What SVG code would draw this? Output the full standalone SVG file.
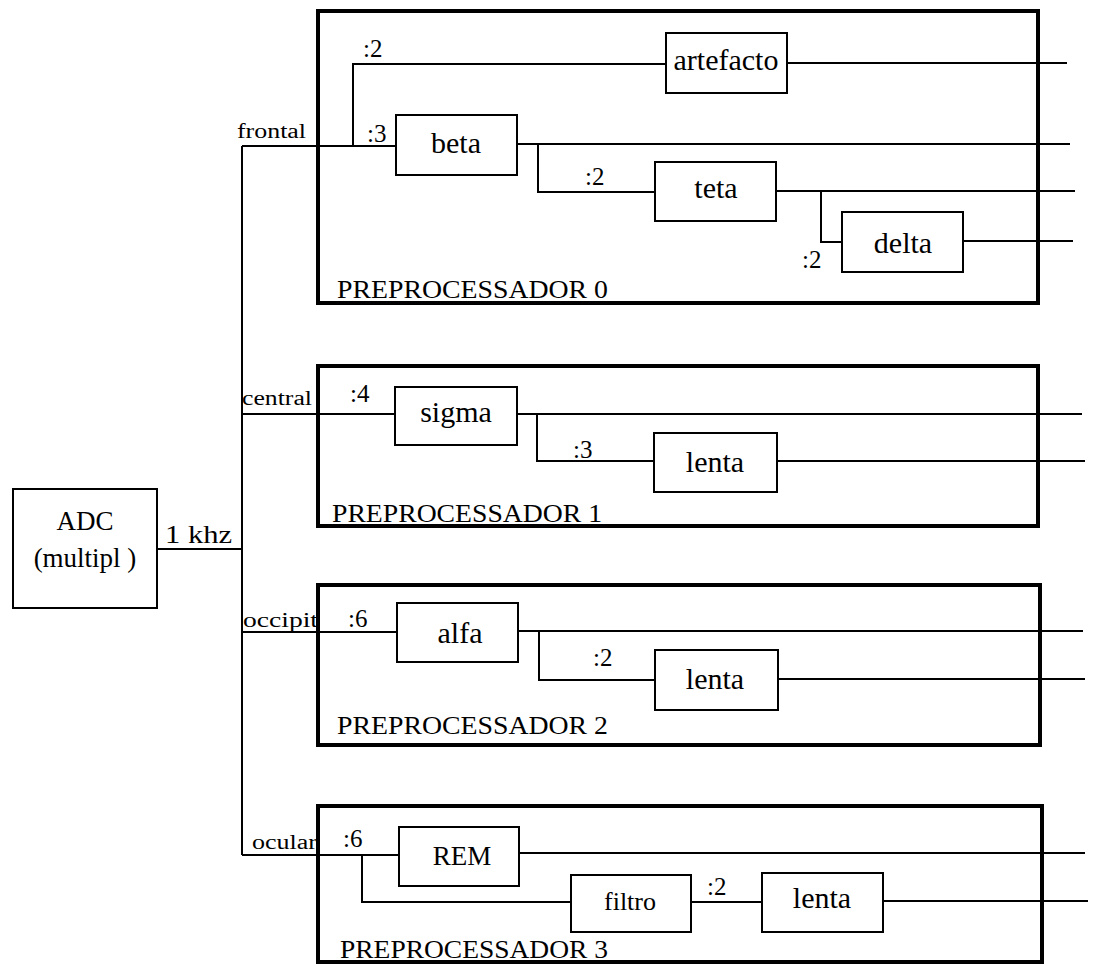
<svg xmlns="http://www.w3.org/2000/svg" width="1095" height="966" viewBox="0 0 1095 966">
<style>
.bg{fill:#fff}
.pre{fill:none;stroke:#000;stroke-width:4}
.blk{fill:#fff;stroke:#000;stroke-width:2}
.ln{fill:none;stroke:#000;stroke-width:2}
.lb{font-family:'Times New Roman','Liberation Serif',serif;font-size:30px;text-anchor:middle;fill:#000}
.sm{font-family:'Liberation Serif','Times New Roman',serif;font-size:20px;fill:#000}
.rt{font-family:'Liberation Serif',serif;font-size:25px;fill:#000}
.pp{font-family:'Liberation Serif','Times New Roman',serif;font-size:25px;fill:#000}
</style>
<rect class="bg" x="0" y="0" width="1095" height="966"/>

<g id="connectors">
  <path class="ln" d="M157,549 H242"/>
  <path class="ln" d="M242,146 V855"/>
  <path class="ln" d="M242,146 H396"/>
  <path class="ln" d="M353,146 V64 H666"/>
  <path class="ln" d="M787,63 H1067"/>
  <path class="ln" d="M517,144 H1070"/>
  <path class="ln" d="M538,144 V192 H655"/>
  <path class="ln" d="M776,191 H1075"/>
  <path class="ln" d="M821,191 V242 H842"/>
  <path class="ln" d="M963,241 H1073"/>
  <path class="ln" d="M242,414 H395"/>
  <path class="ln" d="M517,414 H1082"/>
  <path class="ln" d="M537,414 V461 H654"/>
  <path class="ln" d="M777,461 H1085"/>
  <path class="ln" d="M242,632 H397"/>
  <path class="ln" d="M518,631 H1083"/>
  <path class="ln" d="M539,631 V680 H655"/>
  <path class="ln" d="M778,679 H1085"/>
  <path class="ln" d="M242,855 H399"/>
  <path class="ln" d="M519,853 H1085"/>
  <path class="ln" d="M362,855 V902 H571"/>
  <path class="ln" d="M691,902 H762"/>
  <path class="ln" d="M883,901 H1088"/>
</g>

<g id="adc">
  <rect class="blk" x="13" y="489" width="144" height="119"/>
  <text class="lb" x="85" y="530" style="font-size:27px">ADC</text>
  <text class="lb" x="85" y="567" style="font-size:27px">(multipl )</text>
</g>
<text id="lbl-1khz" class="rt" x="165" y="543" textLength="67" lengthAdjust="spacingAndGlyphs">1 khz</text>

<g id="bus-labels">
  <text class="sm" x="237" y="138" textLength="69" lengthAdjust="spacingAndGlyphs">frontal</text>
  <text class="sm" x="242" y="405" textLength="70" lengthAdjust="spacingAndGlyphs">central</text>
  <text class="sm" x="243" y="627" textLength="75" lengthAdjust="spacingAndGlyphs">occipit</text>
  <text class="sm" x="252" y="849" textLength="65" lengthAdjust="spacingAndGlyphs">ocular</text>
</g>

<g id="pre0">
  <rect class="pre" x="318" y="11" width="720" height="292"/>
  <text class="pp" x="337" y="298" textLength="271" lengthAdjust="spacingAndGlyphs">PREPROCESSADOR 0</text>
  <text class="rt" x="363" y="57">:2</text>
  <text class="rt" x="367" y="142">:3</text>
  <text class="rt" x="585" y="185">:2</text>
  <text class="rt" x="802" y="268">:2</text>
</g>
<g id="artefacto">
  <rect class="blk" x="666" y="33" width="121" height="60"/>
  <text class="lb" x="726" y="70">artefacto</text>
</g>
<g id="beta">
  <rect class="blk" x="396" y="115" width="121" height="60"/>
  <text class="lb" x="456" y="153">beta</text>
</g>
<g id="teta">
  <rect class="blk" x="655" y="162" width="121" height="59"/>
  <text class="lb" x="716" y="198">teta</text>
</g>
<g id="delta">
  <rect class="blk" x="842" y="212" width="121" height="60"/>
  <text class="lb" x="903" y="253">delta</text>
</g>

<g id="pre1">
  <rect class="pre" x="318" y="366" width="720" height="160"/>
  <text class="pp" x="332" y="522" textLength="270" lengthAdjust="spacingAndGlyphs">PREPROCESSADOR 1</text>
  <text class="rt" x="350" y="402">:4</text>
  <text class="rt" x="573" y="458">:3</text>
</g>
<g id="sigma">
  <rect class="blk" x="395" y="387" width="122" height="58"/>
  <text class="lb" x="456" y="422">sigma</text>
</g>
<g id="lenta1">
  <rect class="blk" x="654" y="433" width="123" height="59"/>
  <text class="lb" x="715" y="472">lenta</text>
</g>

<g id="pre2">
  <rect class="pre" x="318" y="585" width="722" height="160"/>
  <text class="pp" x="337" y="734" textLength="271" lengthAdjust="spacingAndGlyphs">PREPROCESSADOR 2</text>
  <text class="rt" x="348" y="627">:6</text>
  <text class="rt" x="593" y="666">:2</text>
</g>
<g id="alfa">
  <rect class="blk" x="397" y="603" width="121" height="59"/>
  <text class="lb" x="460" y="643">alfa</text>
</g>
<g id="lenta2">
  <rect class="blk" x="655" y="650" width="123" height="60"/>
  <text class="lb" x="715" y="689">lenta</text>
</g>

<g id="pre3">
  <rect class="pre" x="318" y="806" width="724" height="156"/>
  <text class="pp" x="340" y="958" textLength="268" lengthAdjust="spacingAndGlyphs">PREPROCESSADOR 3</text>
  <text class="rt" x="343" y="847">:6</text>
  <text class="rt" x="707" y="895">:2</text>
</g>
<g id="rem">
  <rect class="blk" x="399" y="827" width="120" height="59"/>
  <text class="lb" x="462" y="865" style="font-size:27px">REM</text>
</g>
<g id="filtro">
  <rect class="blk" x="571" y="875" width="120" height="57"/>
  <text class="lb" x="630" y="910" style="font-size:26px">filtro</text>
</g>
<g id="lenta3">
  <rect class="blk" x="762" y="873" width="121" height="59"/>
  <text class="lb" x="822" y="908">lenta</text>
</g>
</svg>
